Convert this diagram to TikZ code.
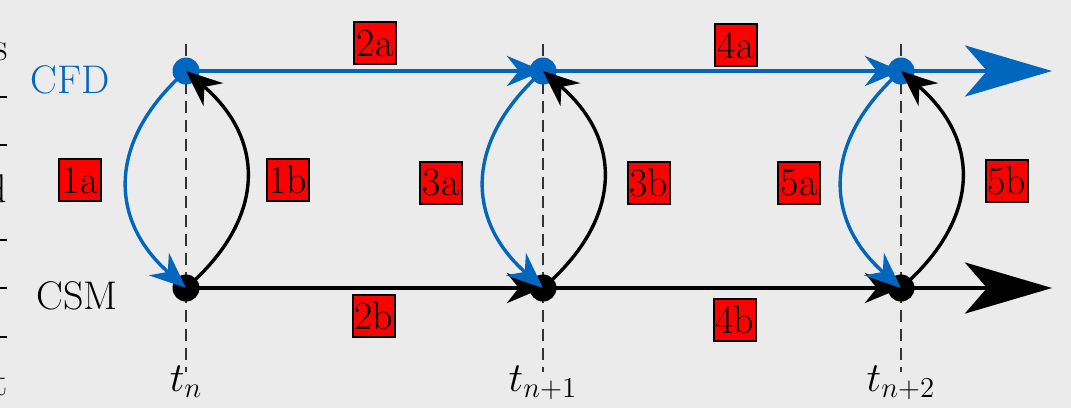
\documentclass[tikz,border=0pt]{standalone}
\usetikzlibrary{arrows.meta}
\definecolor{bgc}{RGB}{235,235,235}
\definecolor{cfdblue}{RGB}{0,102,190}
\begin{document}
\begin{tikzpicture}[x=0.5pt,y=-0.5pt,
  every node/.style={font=\fontsize{20}{24}\selectfont},
  dot/.style={circle,inner sep=0pt,minimum size=13.5pt},
  cfddot/.style={dot,fill=cfdblue},
  csmdot/.style={dot,fill=black},
  tag/.style={draw=black,line width=0.6pt,fill=red,inner sep=0pt,minimum width=21pt,minimum height=21pt},
  midtip/.style={-{Stealth[length=18pt,width=15pt]}},
  endtip/.style={-{Stealth[length=43.5pt,width=25.5pt,inset=11pt]}},
  hline/.style={line width=2.3pt},
  curve/.style={line width=1.7pt},
  timeline/.style={line width=0.55pt,draw=black!80,dash pattern=on 6pt off 3.5pt}
]
\fill[bgc] (0,0) rectangle (1071,408);
\useasboundingbox (0,0) rectangle (1071,408);
% clipped fragments of neighbouring text
\begin{scope}
\clip (0,0) rectangle (1071,408);
\node[anchor=base east,inner sep=0pt] (fs) at (8,60) {s};
\node[anchor=base east,inner sep=0pt] (fd) at (7,202) {d};
\node[anchor=base east,inner sep=0pt] (ft) at (8,395) {t};
\foreach \yy in {97,145,240,288,337} \draw[line width=1pt] (0,\yy) -- (7,\yy);
\end{scope}
% time lines
\foreach \xx/\nm in {186/0,543/1,901/2} {
  \coordinate (tt\nm) at (\xx,44);
  \coordinate (tb\nm) at (\xx,372);
  \draw[timeline] (tt\nm) -- (tb\nm);
}
% dots
\node[cfddot] (f0) at (186,71) {};
\node[cfddot] (f1) at (543,71) {};
\node[cfddot] (f2) at (901,71) {};
\node[csmdot] (s0) at (186,288) {};
\node[csmdot] (s1) at (543,288) {};
\node[csmdot] (s2) at (901,288) {};
\coordinate (fe) at (1052,71);
\coordinate (se) at (1052,288);
% horizontal
\draw[hline,cfdblue,midtip] (f0.center) -- (f1.center);
\draw[hline,cfdblue,midtip] (f1.center) -- (f2.center);
\draw[hline,cfdblue,endtip] (f2.center) -- (fe);
\draw[hline,black,midtip] (s0.center) -- (s1.center);
\draw[hline,black,midtip] (s1.center) -- (s2.center);
\draw[hline,black,endtip] (s2.center) -- (se);
% curves
\foreach \i/\xx in {0/186,1/543,2/901} {
  \draw[curve,cfdblue,midtip] (f\i.center) .. controls (\xx-78,140) and (\xx-78,219) .. (s\i.center);
  \draw[curve,black,midtip] (s\i.center) .. controls (\xx+80,219) and (\xx+80,140) .. (f\i.center);
}
% labels
\node[text=cfdblue] (cfd) at (70,80) {CFD};
\node (csm) at (77,296) {CSM};
\node[anchor=base] (l0) at (186,391) {$t_n$};
\node[anchor=base] (l1) at (543,391) {$t_{n+1}$};
\node[anchor=base] (l2) at (901,391) {$t_{n+2}$};
% tags
\node[tag] (g1a) at (80,180) {1a};
\node[tag] (g1b) at (288,180) {1b};
\node[tag] (g2a) at (375,43) {2a};
\node[tag] (g2b) at (374,316) {2b};
\node[tag] (g3a) at (441,183) {3a};
\node[tag] (g3b) at (649,183) {3b};
\node[tag] (g4a) at (736,45) {4a};
\node[tag] (g4b) at (735,320) {4b};
\node[tag] (g5a) at (799,183) {5a};
\node[tag] (g5b) at (1007,181) {5b};
\end{tikzpicture}
\end{document}
